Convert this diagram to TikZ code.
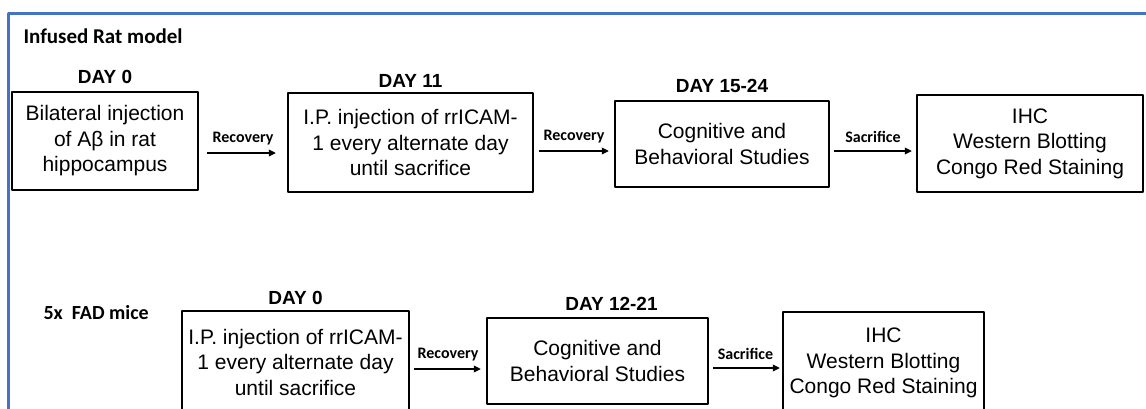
\documentclass[tikz,border=0pt]{standalone}
\usepackage{fontspec}
\setmainfont{Liberation Sans}
\newfontfamily\calibri{Carlito}
\usetikzlibrary{arrows.meta}
\definecolor{frameblue}{HTML}{4472C4}
\begin{document}
\begin{tikzpicture}[x=1pt,y=-1pt,line join=round,
		stage/.style={draw,line width=2.2pt,align=center,inner sep=0pt,font=\fontsize{21}{25.5}\selectfont},
		day/.style={font=\bfseries\fontsize{19}{21}\selectfont},
		flow/.style={-{Triangle[length=7pt,width=6.5pt]},line width=2pt},
		flowlbl/.style={font=\calibri\bfseries\fontsize{16}{18}\selectfont},
		title/.style={anchor=west,font=\calibri\bfseries\fontsize{21}{24}\selectfont}]
			\useasboundingbox (0,0) rectangle (1146,408);
			\draw[frameblue,line width=3pt] (8,420) |- (1160,13);
			% infused rat model
			\node[title] (rat) at (20,36) {Infused Rat model};
			\node[stage,minimum width=186pt,minimum height=98pt,label={[day,label distance=4pt]above:DAY 0}] (inj) at (105,141) {Bilateral injection\\of Aβ in rat\\hippocampus};
			\node[stage,minimum width=245pt,minimum height=99pt,label={[day,label distance=1pt]above:DAY 11}] (ip) at (410.5,142.5) {I.P. injection of rrICAM-\\1 every alternate day\\until sacrifice};
			\node[stage,minimum width=214pt,minimum height=86pt,label={[day,label distance=4pt]above:DAY 15-24}] (cog) at (722,144) {Cognitive and\\Behavioral Studies};
			\node[stage,minimum width=226pt,minimum height=97pt] (ana) at (1030,143.5) {IHC\\Western Blotting\\Congo Red Staining};
			\draw[flow,shorten <=8pt,shorten >=11pt] ([yshift=-12pt]inj.east) -- ([yshift=-12pt]inj.east -| ip.west) node[midway,above=4pt,flowlbl] {Recovery};
			\draw[flow,shorten <=5pt,shorten >=5pt] ([yshift=-8.5pt]ip.east) -- ([yshift=-8.5pt]ip.east -| cog.west) node[midway,above=4pt,flowlbl] {Recovery};
			\draw[flow,shorten <=4pt,shorten >=4pt] ([yshift=-7pt]cog.east) -- ([yshift=-7pt]cog.east -| ana.west) node[midway,above=4pt,flowlbl] {Sacrifice};
			% 5x FAD mice
			\node[title,font=\calibri\bfseries\fontsize{20}{24}\selectfont] (fad) at (40,313) {5x\ \ FAD mice};
			\node[stage,minimum width=227pt,minimum height=102pt,label={[day,label distance=2pt]above:DAY 0}] (mip) at (295.5,362) {I.P. injection of rrICAM-\\1 every alternate day\\until sacrifice};
			\node[stage,minimum width=221pt,minimum height=86pt,label={[day,label distance=3pt,xshift=14pt]above:DAY 12-21}] (mcog) at (597.5,361) {Cognitive and\\Behavioral Studies};
			\node[stage,minimum width=201pt,minimum height=102pt] (mana) at (883.5,363) {IHC\\Western Blotting\\Congo Red Staining};
			\draw[flow,shorten <=4pt,shorten >=5pt] ([yshift=-7pt]mip.east) -- ([yshift=-7pt]mip.east -| mcog.west) node[midway,above=4pt,flowlbl] {Recovery};
			\draw[flow,shorten <=4pt,shorten >=2pt] ([yshift=-7pt]mcog.east) -- ([yshift=-7pt]mcog.east -| mana.west) node[midway,above=4pt,flowlbl] {Sacrifice};
		\end{tikzpicture}
\end{document}
